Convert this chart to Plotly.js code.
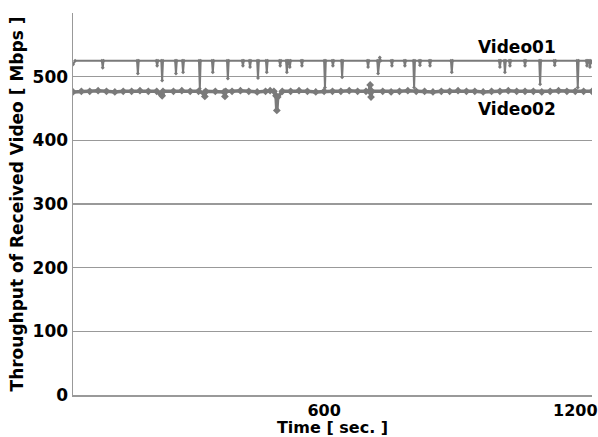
<!DOCTYPE html>
<html>
<head>
<meta charset="utf-8">
<script src="https://cdn.plot.ly/plotly-3.0.1.min.js"></script>
<style>html,body{margin:0;padding:0;background:#fff;}#chart{width:598px;height:437px;}</style>
</head>
<body>
<div id="chart"></div>
<script>
// Video01 readings (time in s, throughput in Mbps)
const t01 = [0,5,69,71,73,153,155,157,199,201,203,211,213,215,244,246,248,261,263,265,301,303,305,332,334,336,368,370,372,404,406,408,421,423,425,440,442,444,461,463,465,493,495,497,509,511,513,516,518,520,545,547,549,600,602,604,619,621,623,641,643,645,703,705,707,727,729,731,733,735,760,762,764,791,793,795,813,815,817,827,829,831,851,853,855,903,905,907,1018,1020,1022,1030,1032,1034,1042,1044,1046,1078,1080,1082,1114,1116,1118,1149,1151,1153,1204,1206,1208,1226,1228,1230,1233,1235,1237,1240];
const v01 = [519,525,525,514,525,525,505,525,525,517,525,525,494,525,525,505,525,525,507,525,525,481,525,525,507,525,525,497,525,525,517,525,525,515,525,525,498,525,525,507,525,525,517,525,525,507,525,525,515,525,525,517,525,525,483,525,525,517,525,525,499,525,525,515,525,525,505,525,530,525,525,517,525,525,517,525,525,483,525,525,518,525,525,517,525,525,507,525,525,515,525,525,507,525,525,517,525,525,517,525,525,488,525,525,518,525,525,483,525,525,517,525,525,515,525,522];

// Video02 readings
const t02 = [0,20,40,60,80,100,120,140,160,180,200,211,213,215,240,260,280,300,313,315,317,340,361,363,365,380,400,420,440,460,471,480,485,487,489,500,520,540,560,580,600,620,640,660,680,700,708,710,712,714,740,760,780,800,820,840,860,880,900,920,940,960,980,1000,1020,1040,1060,1080,1100,1120,1140,1160,1180,1200,1220,1240];
const v02 = [476,477,477,478,477,476,477,477,478,477,477,472,470,477,477,478,477,477,474,469,477,477,476,469,477,477,478,477,476,477,478,477,470,447,468,477,477,478,477,476,477,477,477,478,477,477,477,487,468,477,477,476,477,478,477,477,476,477,477,478,477,477,476,477,477,478,477,477,477,476,477,478,477,477,477,477];

const xTicks = [600, 1200];
const xTickText = ['600', '1200'];
const yTicks = [0, 100, 200, 300, 400, 500];
const seriesNames = ['Video01', 'Video02'];

const FONT = 'DejaVu Sans, Liberation Sans, sans-serif';
const GREY = '#7a7a7a';

const traces = [
  {x: t01, y: v01, name: seriesNames[0], type: 'scatter', mode: 'lines+markers',
   line: {color: GREY, width: 2}, marker: {color: GREY, size: 3, symbol: 'diamond'}},
  {x: t02, y: v02, name: seriesNames[1], type: 'scatter', mode: 'lines+markers',
   line: {color: GREY, width: 3.5}, marker: {color: GREY, size: 6, symbol: 'diamond'}}
];

const layout = {
  width: 598, height: 437,
  margin: {l: 73, r: 6, t: 13, b: 42},
  paper_bgcolor: '#fff', plot_bgcolor: '#fff',
  showlegend: false,
  font: {family: FONT, color: '#000'},
  xaxis: {
    range: [0, 1240], tickvals: xTicks, ticktext: xTickText,
    showgrid: false, zeroline: false, showline: true, linecolor: '#999', linewidth: 1.5,
    ticks: '', ticklabelstandoff: 0, ticklabeloverflow: 'allow',
    tickfont: {family: FONT, size: 16, weight: 'bold', color: '#000'},
    title: {text: 'Time [ sec. ]', font: {family: FONT, size: 16, weight: 'bold', color: '#000'}, standoff: 0}
  },
  yaxis: {
    range: [0, 600], tickvals: yTicks,
    showgrid: true, gridcolor: '#999', gridwidth: 1.2, zeroline: false,
    showline: true, linecolor: '#999', linewidth: 1.5,
    ticks: '', tickfont: {family: FONT, size: 17, weight: 'bold', color: '#000'},
    title: {text: 'Throughput of Received Video [ Mbps ]', font: {family: FONT, size: 17, weight: 'bold', color: '#000'}, standoff: 4}
  },
  annotations: [
    {x: 1060, y: 546, text: seriesNames[0], showarrow: false, font: {family: FONT, size: 17, weight: 'bold', color: '#000'}},
    {x: 1060, y: 449, text: seriesNames[1], showarrow: false, font: {family: FONT, size: 17, weight: 'bold', color: '#000'}}
  ]
};

Plotly.newPlot('chart', traces, layout, {displayModeBar: false, staticPlot: true});
</script>
</body>
</html>
